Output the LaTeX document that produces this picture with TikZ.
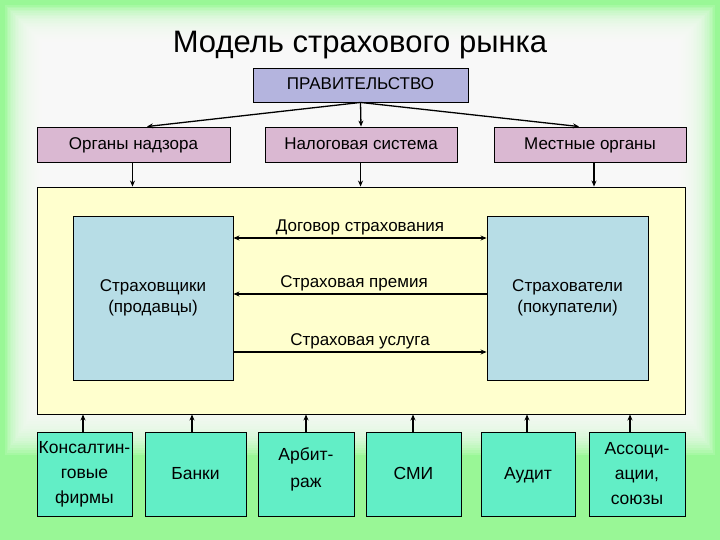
\documentclass[tikz,border=0pt]{standalone}
\usepackage{fontspec}
\setmainfont{Liberation Sans}
\usetikzlibrary{arrows.meta,calc}
\definecolor{bggreen}{RGB}{153,247,150}
\definecolor{govfill}{RGB}{180,180,222}
\definecolor{pinkfill}{RGB}{218,184,210}
\definecolor{yelfill}{RGB}{255,255,206}
\definecolor{bluefill}{RGB}{183,221,230}
\definecolor{aquafill}{RGB}{98,238,198}
\tikzset{
  box/.style={draw=black, line width=0.9pt, rectangle, inner sep=0pt, align=center, font=\fontsize{17}{21}\selectfont},
  one/.style={text height=13pt, text depth=3pt},
  arr/.style={line width=1.3pt, -{Stealth[length=6pt,width=5pt]}},
  darr/.style={line width=1.3pt, {Stealth[length=6pt,width=5pt]}-{Stealth[length=6pt,width=5pt]}},
  lbl/.style={font=\fontsize{17}{21}\selectfont, inner sep=2pt},
  bot/.style={box, fill=aquafill, minimum height=84pt, font=\fontsize{17.5}{25}\selectfont},
}
\begin{document}
\begin{tikzpicture}[x=1pt,y=-1pt]
\useasboundingbox (0,0) rectangle (720,540);
\fill[bggreen] (0,0) rectangle (720,540);
\foreach \i in {0,...,23}{
  \pgfmathsetmacro\l{5+\i*1.6}
  \pgfmathsetmacro\b{455-\i*2.4}
  \fill[white,opacity=0.13] (\l,\l) rectangle ({720-\l},\b);
}
% title
\node[font=\fontsize{31}{35}\selectfont] (title) at (360,45) {Модель страхового рынка};
% government
\node[box, one, fill=govfill, minimum width=215pt, minimum height=34pt] (gov) at (360.5,85) {ПРАВИТЕЛЬСТВО};
\node[box, one, fill=pinkfill, minimum width=193pt, minimum height=35pt] (org) at (133.5,144.5) {Органы надзора};
\node[box, one, fill=pinkfill, minimum width=192pt, minimum height=35pt] (nal) at (361,144.5) {Налоговая система};
\node[box, one, fill=pinkfill, minimum width=192pt, minimum height=35pt] (mest) at (590,144.5) {Местные органы};
\draw[arr] (gov.south) -- ([xshift=13.5pt]org.north);
\draw[arr] (gov.south) -- (nal.north);
\draw[arr] (gov.south) -- ([xshift=-11pt]mest.north);
% market
\node[box, fill=yelfill, minimum width=648pt, minimum height=227pt] (yel) at (361,300.5) {};
\draw[arr] ([xshift=-1pt]org.south) -- ([xshift=-1pt]org.south |- yel.north);
\draw[arr] ([xshift=-0.5pt]nal.south) -- ([xshift=-0.5pt]nal.south |- yel.north);
\draw[arr] ([xshift=4pt]mest.south) -- ([xshift=4pt]mest.south |- yel.north);
\node[box, fill=bluefill, minimum width=160pt, minimum height=164pt] (ins) at (153,298) {Страховщики\\(продавцы)};
\node[box, fill=bluefill, minimum width=161pt, minimum height=164pt] (pol) at (567.5,298) {Страхователи\\(покупатели)};
\draw[darr] (ins.east |- 0,238) -- node[lbl, above] {Договор страхования} (pol.west |- 0,238);
\draw[arr] (pol.west |- 0,294) -- node[lbl, above, xshift=-6pt] {Страховая премия} (ins.east |- 0,294);
\draw[arr] (ins.east |- 0,352) -- node[lbl, above] {Страховая услуга} (pol.west |- 0,352);
% bottom
\node[bot, minimum width=95pt] (b1) at (84.5,474) {Консалтин-\\говые\\фирмы};
\node[bot, one, minimum width=101pt] (b2) at (195.5,474) {Банки};
\node[bot, minimum width=96pt] (b3) at (306,474) {};
\node[font=\fontsize{17.5}{27}\selectfont, align=center] at (306,469) {Арбит-\\раж};
\node[bot, one, minimum width=95pt] (b4) at (413.5,474) {СМИ};
\node[bot, one, minimum width=94pt] (b5) at (528,474) {Аудит};
\node[bot, minimum width=96pt] (b6) at (637,474) {Ассоци-\\ации,\\союзы};
\draw[arr] (b1.north -| 83,0) -- (yel.south -| 83,0);
\draw[arr] (b2.north -| 192,0) -- (yel.south -| 192,0);
\draw[arr] (b3.north) -- (b3.north |- yel.south);
\draw[arr] (b4.north -| 413,0) -- (yel.south -| 413,0);
\draw[arr] (b5.north -| 527,0) -- (yel.south -| 527,0);
\draw[arr] (b6.north -| 630,0) -- (yel.south -| 630,0);
\end{tikzpicture}
\end{document}
